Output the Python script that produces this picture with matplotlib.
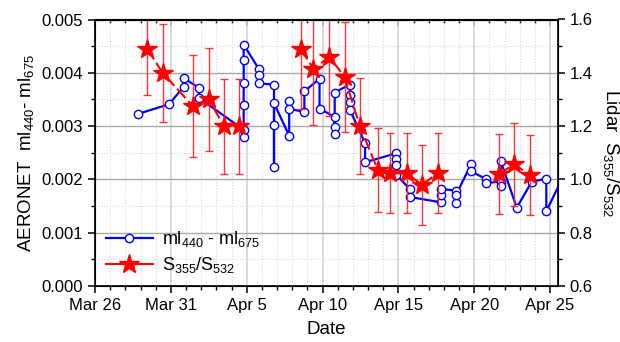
import numpy as np
import pandas as pd
import matplotlib
matplotlib.use("Agg")
import matplotlib.pyplot as plt
from matplotlib.lines import Line2D
from matplotlib.ticker import MultipleLocator, FuncFormatter

plt.rcParams["font.family"] = ["Liberation Sans", "DejaVu Sans"]
plt.rcParams["mathtext.default"] = "regular"

START = pd.Timestamp("2013-03-26")

# AERONET ml440 - ml675, days since Mar 26 00:00 (several readings per day)
aero_days = [2.85, 4.88,
             5.85, 5.85, 6.85, 6.85,
             9.8, 9.8, 9.8, 9.8, 9.8, 9.8,
             10.8, 10.8, 10.8,
             11.8, 11.8, 11.8, 11.8,
             12.8, 12.8, 12.8,
             13.8, 13.8, 14.8, 14.8,
             15.8, 15.8, 15.8, 15.8,
             16.8, 16.8, 16.8, 16.8,
             17.8, 17.8,
             19.85, 19.85, 19.85, 19.85,
             20.75, 20.75,
             22.8, 22.8, 22.8,
             23.8, 23.8, 23.8,
             24.8, 24.8, 25.75, 25.75,
             26.75, 26.75, 26.75,
             27.8, 28.8, 29.75, 29.75, 30.8]
aero_vals = [0.00323, 0.00341,
             0.00374, 0.00390, 0.00372, 0.00353,
             0.00293, 0.00280, 0.00340, 0.00380, 0.00424, 0.00453,
             0.00407, 0.00395, 0.00380,
             0.00378, 0.00303, 0.00224, 0.00343,
             0.00282, 0.00348, 0.00333,
             0.00326, 0.00365, 0.00389, 0.00333,
             0.00317, 0.00298, 0.00285, 0.00363,
             0.00378, 0.00359, 0.00346, 0.00331,
             0.00268, 0.00232,
             0.00249, 0.00238, 0.00227, 0.00209,
             0.00182, 0.00167,
             0.00157, 0.00171, 0.00182,
             0.00179, 0.00156, 0.00171,
             0.00229, 0.00215, 0.00201, 0.00193,
             0.00196, 0.00187, 0.00234,
             0.00147, 0.00196, 0.00201, 0.00140, 0.00202]

# Lidar S355/S532 with error bars
lidar_days = [3.45, 4.45, 6.45, 7.5, 8.5, 9.5,
              13.55, 14.4, 15.45, 16.45, 17.45, 18.65,
              19.45, 20.55, 21.55, 22.6, 26.6, 27.65, 28.65]
lidar_vals = [1.49, 1.40, 1.275, 1.30, 1.20, 1.20,
              1.49, 1.415, 1.46, 1.385, 1.20, 1.035,
              1.023, 1.023, 0.98, 1.024, 1.02, 1.057, 1.016]
lidar_err = [0.172, 0.184, 0.19, 0.194, 0.178, 0.178,
             0.225, 0.21, 0.222, 0.206, 0.18, 0.156,
             0.15, 0.15, 0.15, 0.15, 0.15, 0.155, 0.15]

BLUE = "#0000ff"
RED = "#ff0000"


def date_label(x, pos):
    d = START + pd.Timedelta(days=x)
    return f"{d:%b} {d.day}"


fig = plt.figure(figsize=(6.2, 3.42), dpi=100)
ax = fig.add_axes([95 / 620, 1 - 286 / 342, 463 / 620, 266.5 / 342])

ax.plot(aero_days, aero_vals, color=BLUE, lw=1.6, marker="o", ms=6,
        mfc="white", mec=BLUE, mew=1.0, zorder=3)

ax.set_xlim(0, 30.52)
ax.set_ylim(0, 0.005)
ax.xaxis.set_major_locator(MultipleLocator(5))
ax.xaxis.set_minor_locator(MultipleLocator(1))
ax.xaxis.set_major_formatter(FuncFormatter(date_label))
ax.yaxis.set_major_locator(MultipleLocator(0.001))
ax.yaxis.set_minor_locator(MultipleLocator(0.0005))
ax.yaxis.set_major_formatter(FuncFormatter(lambda v, p: f"{v:.3f}"))

ax.grid(axis="y", which="major", color="#a8a8a8", lw=1.0)
ax.grid(axis="x", which="major", color="#d4d4d4", lw=1.2)
ax.grid(which="minor", color="#d8d8d8", lw=0.8, ls=":")
ax.set_axisbelow(True)

ax.tick_params(which="major", direction="out", length=5, width=1.1, labelsize=12)
ax.tick_params(which="minor", direction="out", length=3, width=1.0)
for sp in ax.spines.values():
    sp.set_linewidth(1.2)

top = ax.secondary_xaxis("top")
top.xaxis.set_major_locator(MultipleLocator(5))
top.xaxis.set_minor_locator(MultipleLocator(1))
top.tick_params(which="major", direction="in", length=5, width=1.1, labeltop=False)
top.tick_params(which="minor", direction="in", length=3, width=1.0)

ax.set_xlabel("Date", fontsize=13.5, labelpad=6)
ax.set_ylabel("AERONET  ml$_{440}$- ml$_{675}$", fontsize=13.5, labelpad=4)

ax2 = ax.twinx()
ax2.set_ylim(0.6, 1.6)
ax2.yaxis.set_major_locator(MultipleLocator(0.2))
ax2.yaxis.set_minor_locator(MultipleLocator(0.1))
ax2.yaxis.set_major_formatter(FuncFormatter(lambda v, p: f"{v:.1f}"))
ax2.tick_params(which="major", direction="out", length=5, width=1.1, labelsize=12)
ax2.tick_params(which="minor", direction="out", length=3, width=1.0)
ax2.set_ylabel("Lidar  S$_{355}$/S$_{532}$", fontsize=13.5, rotation=270,
               labelpad=20)

# dashed connector only between nearby lidar nights
ld = np.array(lidar_days)
lv = np.array(lidar_vals)
breaks = np.where(np.diff(ld) > 3)[0] + 1
for seg_d, seg_v in zip(np.split(ld, breaks), np.split(lv, breaks)):
    ax2.plot(seg_d, seg_v, color=RED, lw=1.5, ls=(0, (6, 2)), zorder=2)

ax2.errorbar(lidar_days, lidar_vals, yerr=lidar_err, fmt="none",
             ecolor="#ff2020", elinewidth=1.0, capsize=3, capthick=1.0,
             alpha=0.9, zorder=2)
ax2.plot(lidar_days, lidar_vals, ls="none", marker="*", ms=15,
         color=RED, mec=RED, zorder=4)

handles = [
    Line2D([], [], color=BLUE, lw=1.6, marker="o", ms=6, mfc="white", mec=BLUE),
    Line2D([], [], color=RED, lw=1.5, marker="*", ms=15),
]
labels = ["ml$_{440}$ - ml$_{675}$", "S$_{355}$/S$_{532}$"]
ax2.legend(handles, labels, loc="lower left", frameon=False, fontsize=13,
           handlelength=2.6, handletextpad=0.5, labelspacing=0.35,
           borderaxespad=0.2)

fig.savefig("out.png", dpi=100)
